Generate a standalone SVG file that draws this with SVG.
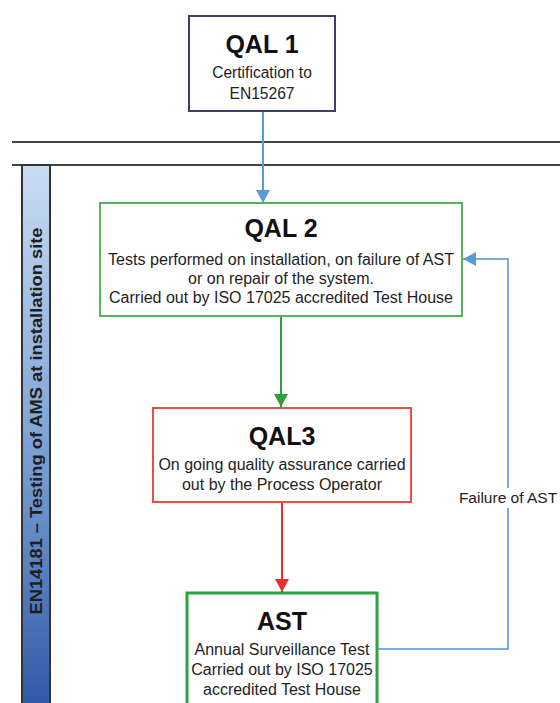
<svg xmlns="http://www.w3.org/2000/svg" width="560" height="703" viewBox="0 0 560 703">
<style>
.t{font-family:"Liberation Sans",Arial,sans-serif;fill:#1e1e1e;text-anchor:middle}
.h{font-size:25px;font-weight:bold;fill:#111}
.s{font-size:16px}
.box{fill:#fff}
</style>
<defs>
<linearGradient id="band" x1="0" y1="0" x2="0" y2="1">
<stop offset="0" stop-color="#c9dcf2"/>
<stop offset="0.5" stop-color="#7fa3d6"/>
<stop offset="1" stop-color="#2f59a6"/>
</linearGradient>
<marker id="ab" markerUnits="userSpaceOnUse" markerWidth="14" markerHeight="14" refX="13" refY="7" orient="auto"><path d="M0,0 L13,7 L0,14 Z" fill="#5b9bd5"/></marker>
<marker id="ag" markerUnits="userSpaceOnUse" markerWidth="14" markerHeight="14" refX="13" refY="7" orient="auto"><path d="M0,0 L13,7 L0,14 Z" fill="#2e9e3e"/></marker>
<marker id="ar" markerUnits="userSpaceOnUse" markerWidth="14" markerHeight="14" refX="13" refY="7" orient="auto"><path d="M0,0 L13,7 L0,14 Z" fill="#e8302a"/></marker>
</defs>
<rect width="560" height="703" fill="#fff"/>
<g id="separators">
<line x1="12" y1="142" x2="560" y2="142" stroke="#444" stroke-width="2"/>
<line x1="12" y1="165" x2="560" y2="165" stroke="#444" stroke-width="2"/>
</g>
<g id="band-label">
<rect x="22" y="165" width="28" height="545" fill="url(#band)" stroke="#333" stroke-width="2"/>
<text class="t" transform="translate(42,421) rotate(-90)" font-size="17" font-weight="bold" fill="#111" textLength="387" lengthAdjust="spacingAndGlyphs">EN14181 – Testing of AMS at installation site</text>
</g>
<g id="connectors" fill="none">
<line x1="263" y1="111" x2="263" y2="203" stroke="#5b9bd5" stroke-width="2" marker-end="url(#ab)"/>
<line x1="281" y1="316" x2="281" y2="407" stroke="#2e9e3e" stroke-width="2" marker-end="url(#ag)"/>
<line x1="282" y1="502" x2="282" y2="592" stroke="#e8302a" stroke-width="2" marker-end="url(#ar)"/>
<polyline points="377,649 508,649 508,259 463,259" stroke="#7aaee0" stroke-width="2" marker-end="url(#ab)"/>
<rect x="458" y="488" width="100" height="20" fill="#fff"/>
<text class="t" x="508" y="503" font-size="15.5">Failure of AST</text>
</g>
<g id="qal1">
<rect class="box" x="189" y="16" width="146" height="95" stroke="#3c3d70" stroke-width="2"/>
<text class="t h" x="262" y="53" font-size="24">QAL 1</text>
<text class="t" x="262" y="78" font-size="15.6">Certification to</text>
<text class="t" x="262" y="99" font-size="15.6">EN15267</text>
</g>
<g id="qal2">
<rect class="box" x="100" y="203" width="362" height="113" stroke="#55b45a" stroke-width="2"/>
<text class="t h" x="281" y="237" font-size="26">QAL 2</text>
<text class="t s" x="281" y="265" textLength="346" lengthAdjust="spacingAndGlyphs">Tests performed on installation, on failure of AST</text>
<text class="t s" x="281" y="284">or on repair of the system.</text>
<text class="t s" x="281" y="303">Carried out by ISO 17025 accredited Test House</text>
</g>
<g id="qal3">
<rect class="box" x="153" y="408" width="258" height="94" stroke="#e8513f" stroke-width="2"/>
<text class="t h" x="282" y="445">QAL3</text>
<text class="t s" x="282" y="470">On going quality assurance carried</text>
<text class="t s" x="282" y="490">out by the Process Operator</text>
</g>
<g id="ast">
<rect class="box" x="187" y="593" width="190" height="120" stroke="#2fa043" stroke-width="3"/>
<text class="t h" x="282" y="630">AST</text>
<text class="t s" x="282" y="655">Annual Surveillance Test</text>
<text class="t s" x="282" y="675">Carried out by ISO 17025</text>
<text class="t s" x="282" y="695">accredited Test House</text>
</g>
</svg>
